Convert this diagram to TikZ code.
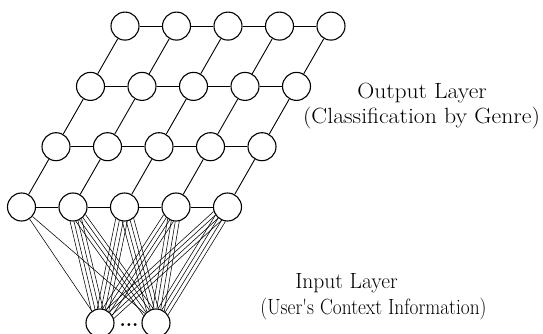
\documentclass[tikz,border=0pt]{standalone}
\usepackage{graphicx}
\begin{document}
\begin{tikzpicture}[x=1pt,y=-1pt,
  unit/.style={circle,draw,line width=1.1pt,minimum size=28pt,inner sep=0pt},
  link/.style={line width=0.9pt},
  wire/.style={line width=0.55pt},
  lbl/.style={font=\fontsize{22}{25}\selectfont,inner sep=0pt}]
\useasboundingbox (0,0) rectangle (543,334);
% grid of output units
\foreach \j in {0,...,3}{
  \foreach \i in {0,...,4}{
    \node[unit] (g\i\j) at ({21.5+51.5*\i+34.5*\j},{207-60.3*\j}) {};
  }
}
\foreach \j in {0,...,3}{
  \foreach \i/\k in {0/1,1/2,2/3,3/4}{
    \draw[link] (g\i\j) -- (g\k\j);
  }
}
\foreach \i in {0,...,4}{
  \foreach \j/\l in {0/1,1/2,2/3}{
    \draw[link] (g\i\j) -- (g\i\l);
  }
}
% input units
\node[unit] (in1) at (100,323) {};
\node[unit] (in2) at (156,323) {};
\node[font=\fontsize{20}{22}\selectfont\bfseries,inner sep=0pt,anchor=base] (dots) at (129,326) {...};
% connections input -> first layer
\draw[wire] (g00) -- (in1);
\draw[wire] (g00) -- (in2);
\foreach \k/\a/\b in {1/282/305, 2/257/285, 3/236/259, 4/222/238}{
  \foreach \d in {-24,-8,8,24}{
    \pgfmathtruncatemacro\sa{\a+\d}
    \pgfmathtruncatemacro\ea{\a+180-\d}
    \pgfmathtruncatemacro\sb{\b+\d}
    \pgfmathtruncatemacro\eb{\b+180-\d}
    \draw[wire] (g\k0.\sa) -- (in1.\ea);
    \draw[wire] (g\k0.\sb) -- (in2.\eb);
  }
}
% labels
\node[lbl] (out1) at (422,93) {\scalebox{1.07}[1]{Output Layer}};
\node[lbl] (out2) at (421.5,118.5) {\scalebox{1.08}[1]{(Classification by Genre)}};
\node[lbl] (inp1) at (346.5,283) {\scalebox{0.98}[1]{Input Layer}};
\node[lbl] (inp2) at (373.5,309) {\scalebox{0.88}[1]{(User\textquotesingle s Context Information)}};
\end{tikzpicture}
\end{document}
